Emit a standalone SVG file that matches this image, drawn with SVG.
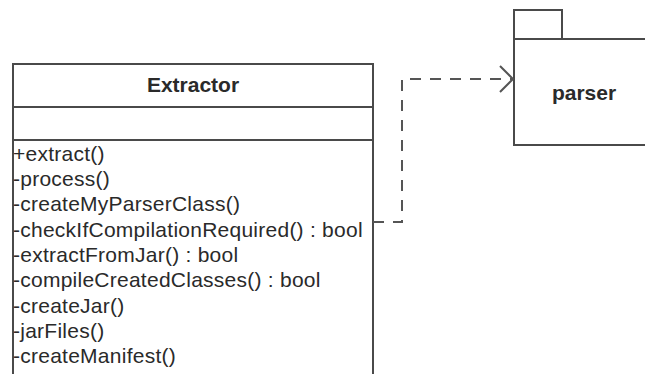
<svg xmlns="http://www.w3.org/2000/svg" width="645" height="374" viewBox="0 0 645 374">
<defs>
<style>
.box{fill:#fff;stroke:#4a4a4a;stroke-width:2}
.title{font-family:"Liberation Sans",Arial,sans-serif;font-weight:bold;font-size:21px;fill:#2a2a2a;text-anchor:middle}
.mem{font-family:"Liberation Sans",Arial,sans-serif;font-size:21px;fill:#2a2a2a;letter-spacing:0.25px}
.dep{fill:none;stroke:#555;stroke-width:2;stroke-dasharray:11 9}
.head{fill:none;stroke:#555;stroke-width:2}
</style>
</defs>
<rect width="645" height="374" fill="#fff"/>
<g id="Extractor">
<rect class="box" x="13" y="64" width="360" height="320"/>
<line class="box" x1="13" y1="107" x2="373" y2="107"/>
<line class="box" x1="13" y1="140" x2="373" y2="140"/>
<text class="title" x="193" y="92">Extractor</text>
<text class="mem" x="13" y="161">+extract()</text>
<text class="mem" x="13" y="186">-process()</text>
<text class="mem" x="13" y="211">-createMyParserClass()</text>
<text class="mem" x="13" y="237">-checkIfCompilationRequired() : bool</text>
<text class="mem" x="13" y="262">-extractFromJar() : bool</text>
<text class="mem" x="13" y="287">-compileCreatedClasses() : bool</text>
<text class="mem" x="13" y="313">-createJar()</text>
<text class="mem" x="13" y="338">-jarFiles()</text>
<text class="mem" x="13" y="363">-createManifest()</text>
</g>
<g id="parser">
<rect class="box" x="514" y="10" width="48" height="29"/>
<rect class="box" x="514" y="39" width="140" height="106"/>
<text class="title" x="584" y="100">parser</text>
</g>
<g id="connectors">
<path class="dep" d="M373,222 H402 V79 H512"/>
<path class="head" d="M500,66 L513,79 L500,92"/>
</g>
</svg>
